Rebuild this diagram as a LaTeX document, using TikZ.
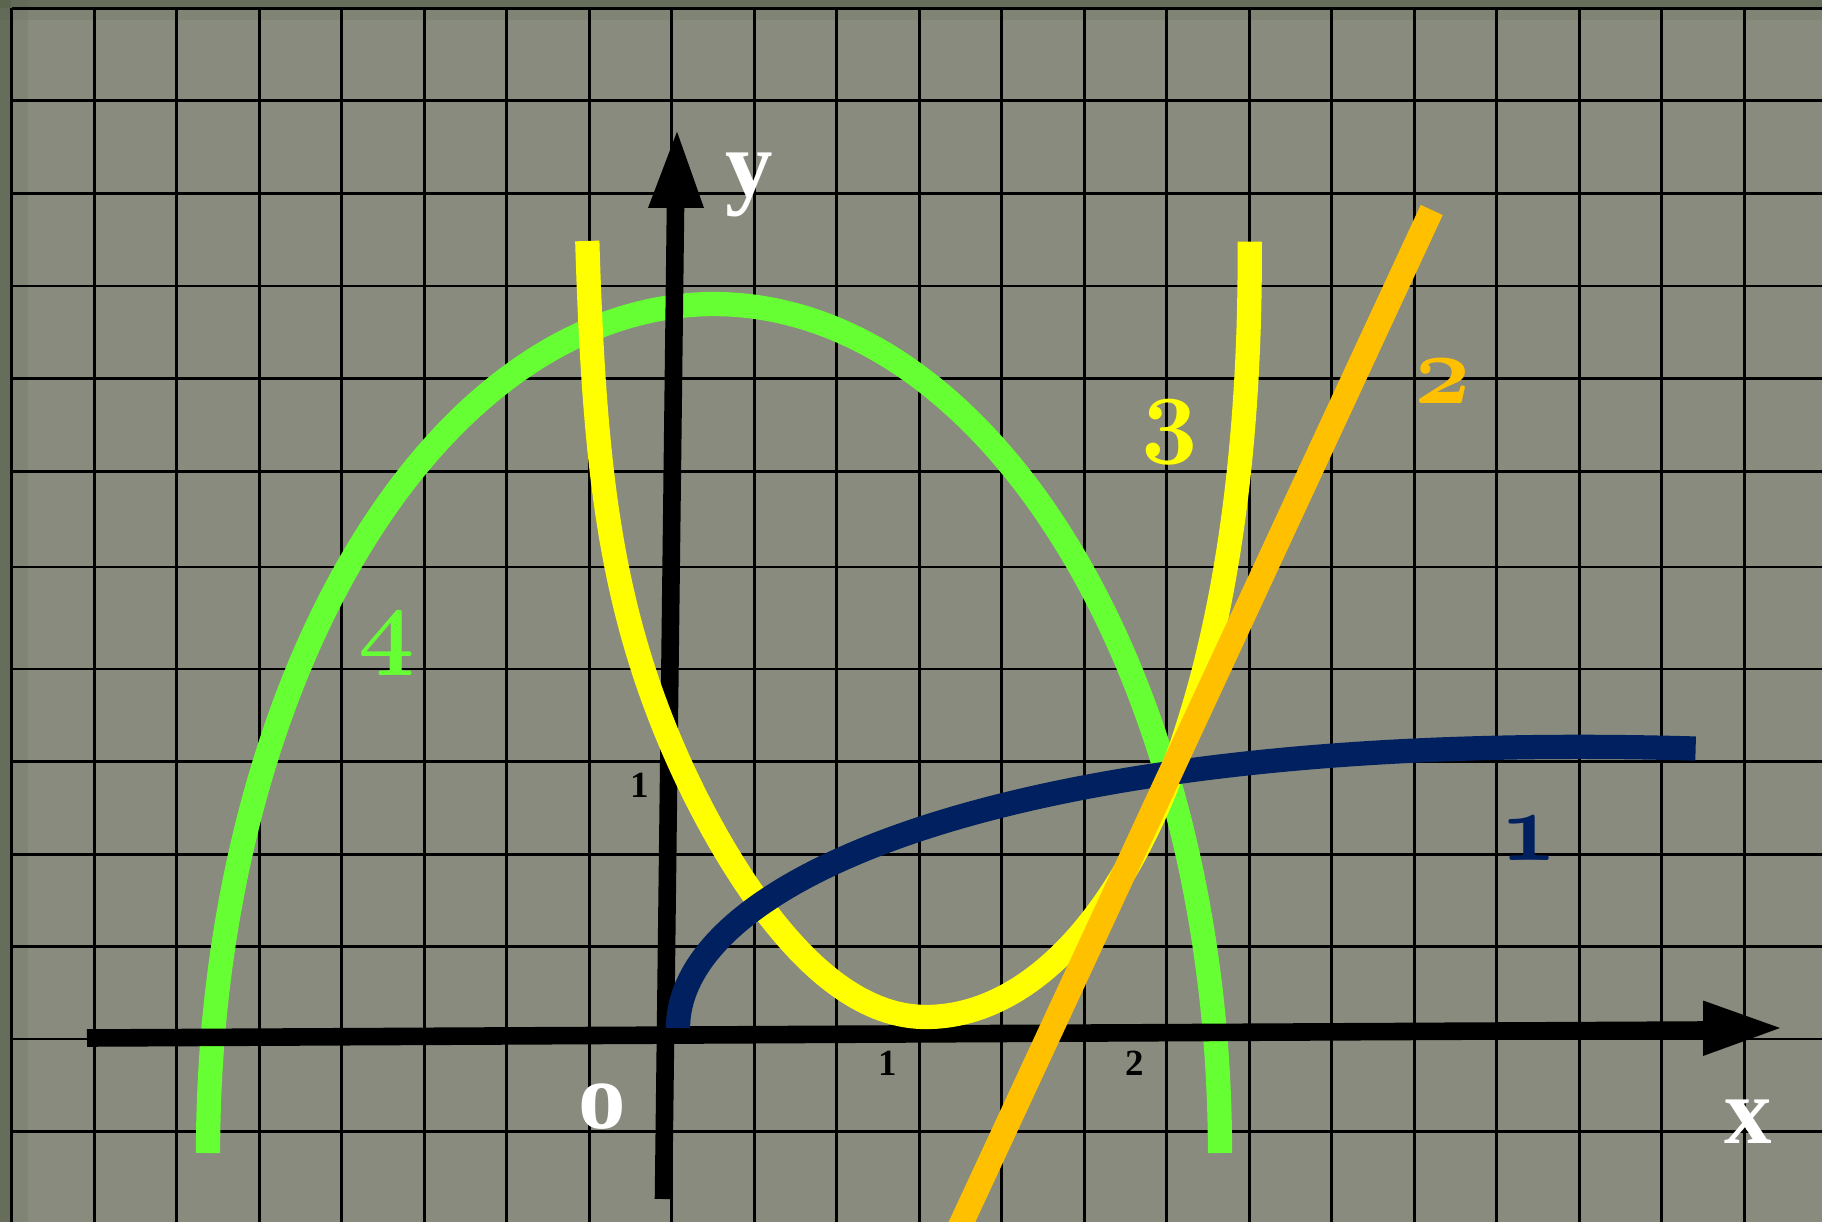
\documentclass[tikz,border=0pt]{standalone}
\usepackage{fontspec}
\newfontfamily\tnr{Liberation Serif}
\DeclareFontFamily{OML}{cmmbig}{\skewchar\font=127}
\DeclareFontShape{OML}{cmmbig}{b}{it}{<-> cmmib10}{}
\newcommand\oldfig{\fontsize{28}{30}\usefont{OML}{cmmbig}{b}{it}}
\definecolor{bg}{HTML}{888B7D}
\definecolor{edgec}{HTML}{55604A}
\definecolor{navy}{HTML}{002060}
\definecolor{orng}{HTML}{FFC000}
\definecolor{yell}{HTML}{FFFF00}
\definecolor{grn}{HTML}{66FF33}
\begin{document}
\begin{tikzpicture}[x=0.01cm, y=-0.01cm,
  gridline/.style={line width=0.8pt, black},
  axline/.style={line width=5pt, black},
  fcurve/.style={line width=6.9pt},
  lettlab/.style={text=white, font=\tnr\bfseries\fontsize{27}{30}\selectfont, inner sep=0, anchor=base},
  ticklab/.style={text=black, font=\tnr\bfseries\fontsize{10.5}{12}\selectfont, inner sep=0, anchor=base},
  curvelab/.style={font=\oldfig, inner sep=0, anchor=base}]
\fill[bg] (0,0) rectangle (1822,1222);
\useasboundingbox (0,0) rectangle (1822,1222);
\clip (0,0) rectangle (1822,1222);
% darker worn edges
\fill[edgec, opacity=0.6] (0,0) rectangle (1822,8);
\fill[edgec, opacity=0.6] (0,0) rectangle (11,1222);
\fill[edgec, opacity=0.15] (0,0) rectangle (1822,20);
\fill[edgec, opacity=0.15] (0,0) rectangle (28,1222);
% grid
\foreach \k in {0,...,21}
  \draw[gridline] ({11.7+82.5*\k},8.3) -- ({11.7+82.5*\k},1222);
\foreach \yy in {8.3,100.7,193.3,286,378.3,471.7,567,669,761.7,854.3,946.7,1039,1131.7}
  \draw[gridline] (11.7,\yy) -- (1822,\yy);
% curve 4 (green)
\draw[fcurve, grn] plot[domain=180:0, samples=160, variable=\t] ({714+506*cos(\t)}, {1153-849*sin(\t)});
% axes
\coordinate (xs) at (87,1038);
\coordinate (xe) at (1704,1030);
\coordinate (xt) at (1780,1028);
\coordinate (xb1) at (1703,1000.5);
\coordinate (xb2) at (1703,1056);
\draw[axline] (xs) -- (xe);
\fill[black] (xt) -- (xb1) -- (xb2) -- cycle;
\coordinate (ys) at (663.5,1199);
\coordinate (ye) at (675.5,207);
\coordinate (yt) at (677,131.7);
\coordinate (yb1) at (648,208);
\coordinate (yb2) at (704,208);
\draw[axline] (ys) -- (ye);
\fill[black] (yt) -- (yb1) -- (yb2) -- cycle;
% curve 3 (yellow)
\draw[fcurve, yell]
  plot[domain=27.857:0, samples=90, variable=\t] ({926 - 15.6*\t/pow(1+(\t*\t/489)^4, 0.125)}, {1017 - \t*\t})
  -- plot[domain=0:27.844, samples=90, variable=\t] ({926 + \t*(17.6 - 0.0077*\t*\t)}, {1017 - \t*\t});
% curve 1 (navy)
\draw[fcurve, navy] plot[domain=0:31.9, samples=120, variable=\s] ({678 + \s*\s}, {1028 - \s*(14.05 - (0.0721*\s)^2)});
% curve 2 (orange line)
\coordinate (ob) at (953.6,1240);
\coordinate (ot) at (1431.7,210);
\draw[fcurve, orng] (ob) -- (ot);
% labels
\node[lettlab] (ylab) at (749,197) {y};
\node[lettlab] (xlab) at (1748,1143) {x};
\node[lettlab] (olab) at (602,1128) {o};
\node[ticklab] (t1x) at (887.5,1075) {1};
\node[ticklab] (t2x) at (1134.5,1075) {2};
\node[ticklab] (t1y) at (640,797) {1};
\node[curvelab, text=orng] (c2) at (1443,404) {2};
\node[curvelab, text=navy] (c1) at (1529,860) {1};
\node[curvelab, text=grn] (c4) at (387,656) {4};
\node[curvelab, text=yell] (c3) at (1170,445) {3};
\end{tikzpicture}
\end{document}
